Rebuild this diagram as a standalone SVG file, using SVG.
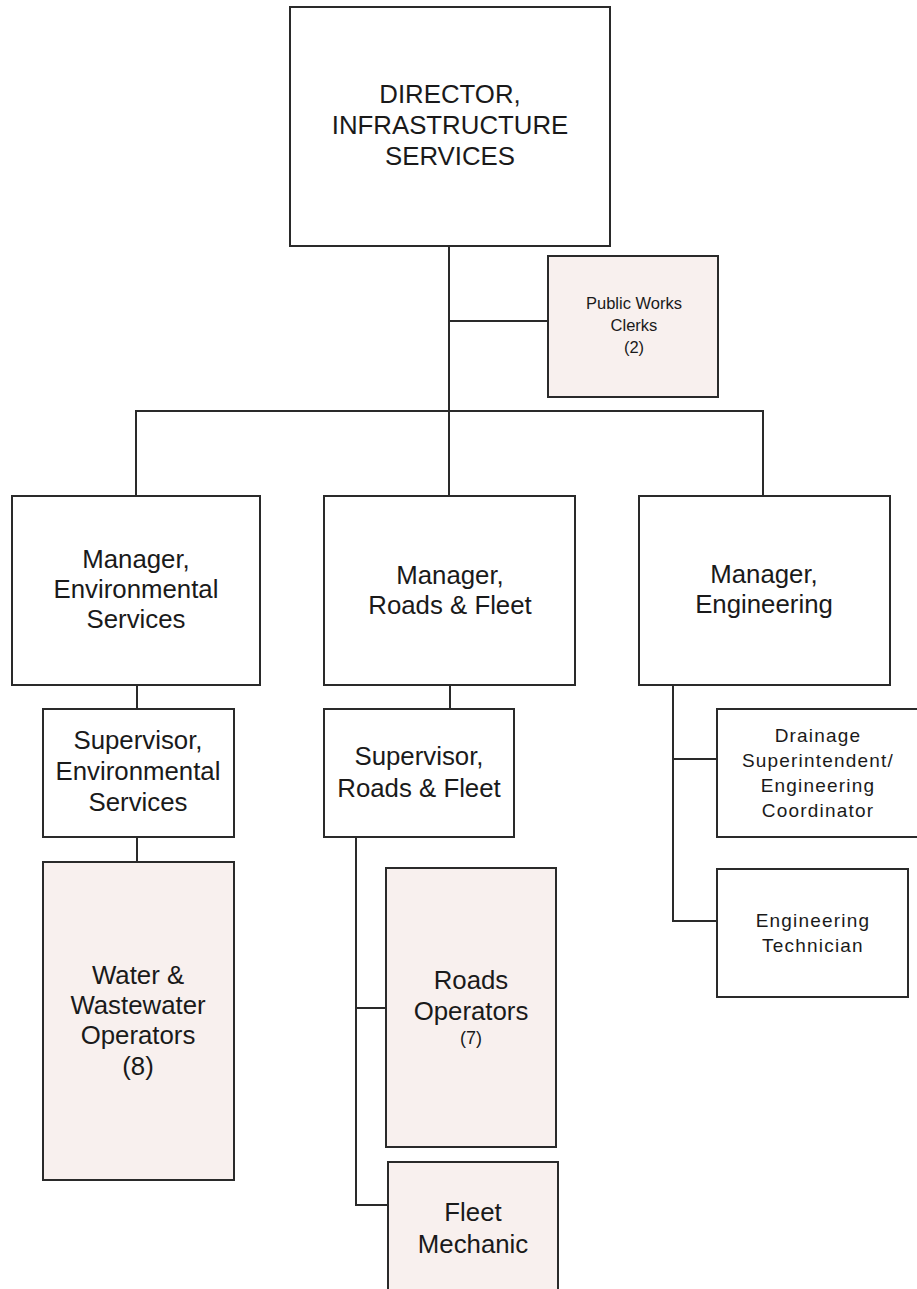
<svg xmlns="http://www.w3.org/2000/svg" width="917" height="1289" viewBox="0 0 917 1289">
  <style>
    .box { fill: #ffffff; stroke: #2a2a2a; stroke-width: 2; }
    .staff { fill: #f8f0ee; stroke: #2a2a2a; stroke-width: 2; }
    .wire { fill: none; stroke: #2a2a2a; stroke-width: 2; stroke-linecap: square; }
    text { font-family: "Liberation Sans", Arial, sans-serif; fill: #1a1a1a; text-anchor: middle; }
    .big { font-size: 25.8px; }
    .mid { font-size: 19px; letter-spacing: 1.2px; }
    .small { font-size: 16.5px; }
    .count { font-size: 18px; }
  </style>

  <rect x="0" y="0" width="917" height="1289" fill="#ffffff"/>

  <!-- reporting lines -->
  <g id="connectors">
    <path class="wire" d="M449 246 V496"/>
    <path class="wire" d="M449 321 H548"/>
    <path class="wire" d="M136 496 V411 H763 V496"/>
    <path class="wire" d="M137 685 V709"/>
    <path class="wire" d="M137 837 V862"/>
    <path class="wire" d="M450 685 V709"/>
    <path class="wire" d="M356 837 V1205 H388"/>
    <path class="wire" d="M356 1008 H386"/>
    <path class="wire" d="M673 685 V921 H717"/>
    <path class="wire" d="M673 759 H717"/>
  </g>

  <g id="director">
    <rect class="box" x="290" y="7" width="320" height="239"/>
    <text class="big" x="450" y="103">DIRECTOR,</text>
    <text class="big" x="450" y="134">INFRASTRUCTURE</text>
    <text class="big" x="450" y="165">SERVICES</text>
  </g>

  <g id="public-works-clerks">
    <rect class="staff" x="548" y="256" width="170" height="141"/>
    <text class="small" x="634" y="309">Public Works</text>
    <text class="small" x="634" y="331">Clerks</text>
    <text class="small" x="634" y="353">(2)</text>
  </g>

  <g id="manager-environmental">
    <rect class="box" x="12" y="496" width="248" height="189"/>
    <text class="big" x="136" y="568">Manager,</text>
    <text class="big" x="136" y="598">Environmental</text>
    <text class="big" x="136" y="628">Services</text>
  </g>

  <g id="manager-roads">
    <rect class="box" x="324" y="496" width="251" height="189"/>
    <text class="big" x="450" y="584">Manager,</text>
    <text class="big" x="450" y="614">Roads &amp; Fleet</text>
  </g>

  <g id="manager-engineering">
    <rect class="box" x="639" y="496" width="251" height="189"/>
    <text class="big" x="764" y="583">Manager,</text>
    <text class="big" x="764" y="613">Engineering</text>
  </g>

  <g id="supervisor-environmental">
    <rect class="box" x="43" y="709" width="191" height="128"/>
    <text class="big" x="138" y="749">Supervisor,</text>
    <text class="big" x="138" y="780">Environmental</text>
    <text class="big" x="138" y="811">Services</text>
  </g>

  <g id="water-operators">
    <rect class="staff" x="43" y="862" width="191" height="318"/>
    <text class="big" x="138" y="984">Water &amp;</text>
    <text class="big" x="138" y="1014">Wastewater</text>
    <text class="big" x="138" y="1044">Operators</text>
    <text class="big" x="138" y="1075">(8)</text>
  </g>

  <g id="supervisor-roads">
    <rect class="box" x="324" y="709" width="190" height="128"/>
    <text class="big" x="419" y="765">Supervisor,</text>
    <text class="big" x="419" y="797">Roads &amp; Fleet</text>
  </g>

  <g id="roads-operators">
    <rect class="staff" x="386" y="868" width="170" height="279"/>
    <text class="big" x="471" y="989">Roads</text>
    <text class="big" x="471" y="1020">Operators</text>
    <text class="count" x="471" y="1044">(7)</text>
  </g>

  <g id="fleet-mechanic">
    <rect class="staff" x="388" y="1162" width="170" height="140"/>
    <text class="big" x="473" y="1221">Fleet</text>
    <text class="big" x="473" y="1253">Mechanic</text>
  </g>

  <g id="drainage-superintendent">
    <rect class="box" x="717" y="709" width="210" height="128"/>
    <text class="mid" x="818" y="742">Drainage</text>
    <text class="mid" x="818" y="767">Superintendent/</text>
    <text class="mid" x="818" y="792">Engineering</text>
    <text class="mid" x="818" y="817">Coordinator</text>
  </g>

  <g id="engineering-technician">
    <rect class="box" x="717" y="869" width="191" height="128"/>
    <text class="mid" x="813" y="927">Engineering</text>
    <text class="mid" x="813" y="952">Technician</text>
  </g>
</svg>
